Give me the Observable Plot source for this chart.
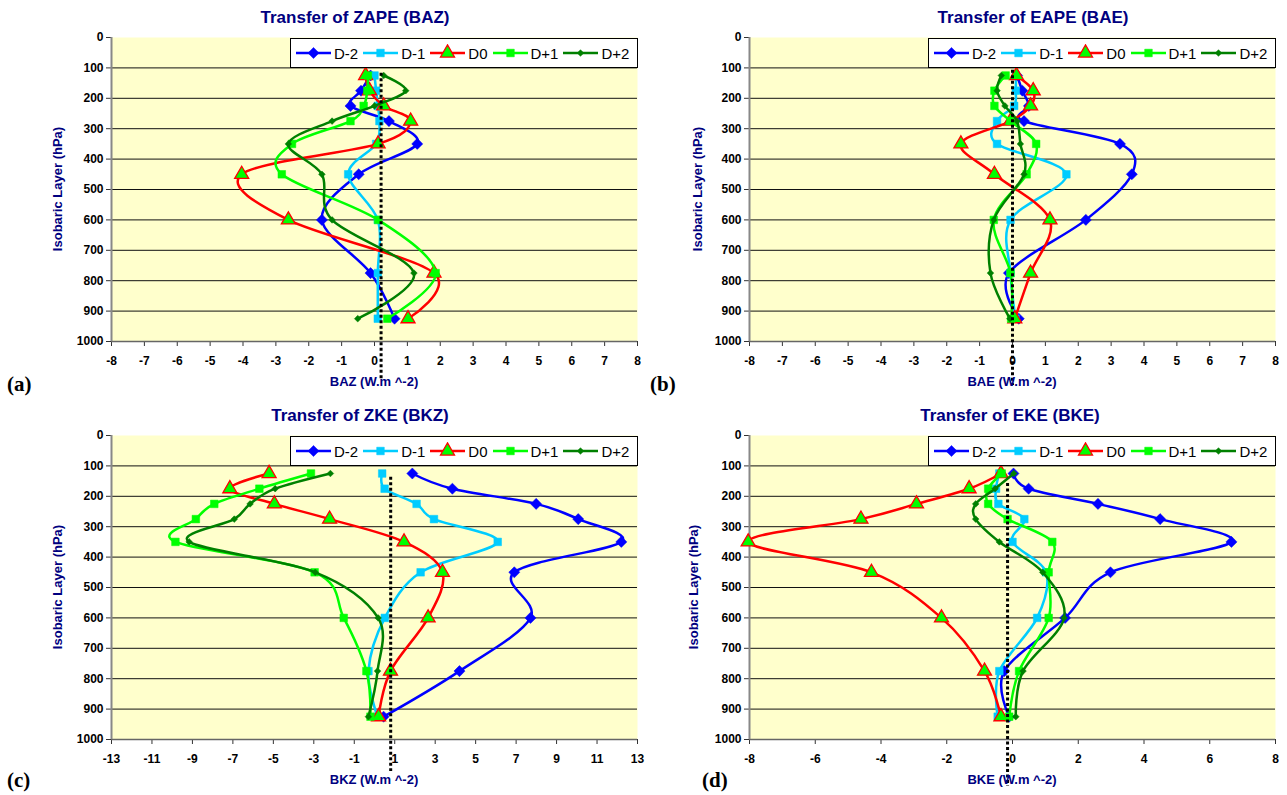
<!DOCTYPE html>
<html><head><meta charset="utf-8">
<script src="https://cdn.jsdelivr.net/npm/d3@7"></script>
<script src="https://cdn.jsdelivr.net/npm/@observablehq/plot@0.6"></script>
<style>
html,body{margin:0;padding:0;background:#fff}
body{width:1287px;height:795px;overflow:hidden;position:relative;font-family:Arial,"Liberation Sans",sans-serif}
.panel{position:absolute}
.ttl{position:absolute;font-weight:bold;color:#000080;font-size:17px;line-height:1;white-space:nowrap;transform:translateX(-50%)}
.xt{position:absolute;font-weight:bold;color:#000080;font-size:13px;line-height:1;white-space:nowrap;transform:translateX(-50%)}
.yt{position:absolute;font-weight:bold;color:#000080;font-size:13px;line-height:1;white-space:nowrap;transform:translate(-50%,-50%) rotate(-90deg)}
.tag{position:absolute;font-family:"Liberation Serif","Times New Roman",serif;font-weight:bold;font-size:21px;line-height:1}
.legend{position:absolute;background:#fff;border:1px solid #000;box-sizing:border-box;height:30px;display:flex;flex-wrap:nowrap;align-items:center;padding-left:5px;overflow:hidden}
.li{display:flex;flex:none;align-items:center;margin-right:5px;white-space:nowrap}
.li svg{flex:none;display:block}
.li span{font-size:15px;margin-left:3px;color:#000;white-space:nowrap}
</style></head><body>
<script>
// ---------------- data ----------------
const levels = [125, 175, 225, 275, 350, 450, 600, 775, 925];
const seriesNames = ["D-2", "D-1", "D0", "D+1", "D+2"];

// (a) BAZ
const baz_Dm2 = [-0.12, -0.41, -0.73, 0.44, 1.30, -0.48, -1.60, -0.12, 0.61];
const baz_Dm1 = [0.00, 0.05, 0.10, 0.15, 0.05, -0.80, 0.10, 0.10, 0.10];
const baz_D0  = [-0.27, -0.15, 0.28, 1.10, 0.11, -4.04, -2.62, 1.81, 1.02];
const baz_Dp1 = [-0.20, -0.22, -0.33, -0.73, -2.51, -2.82, 0.11, 1.86, 0.39];
const baz_Dp2 = [0.28, 0.95, 0.00, -1.29, -2.62, -1.60, -1.29, 1.20, -0.51];

// (b) BAE
const bae_Dm2 = [0.14, 0.30, 0.50, 0.35, 3.27, 3.63, 2.23, -0.11, 0.19];
const bae_Dm1 = [0.10, 0.10, 0.05, -0.47, -0.47, 1.64, -0.06, -0.06, 0.09];
const bae_D0  = [0.12, 0.63, 0.55, -0.06, -1.57, -0.55, 1.14, 0.55, 0.07];
const bae_Dp1 = [-0.21, -0.55, -0.55, -0.06, 0.72, 0.43, -0.57, -0.06, -0.04];
const bae_Dp2 = [-0.34, -0.47, -0.23, 0.14, 0.24, 0.35, -0.57, -0.67, -0.08];

// (c) BKZ
const bkz_Dm2 = [1.87, 3.85, 7.99, 10.07, 12.2, 6.91, 7.71, 4.2, 0.45];
const bkz_Dm1 = [0.38, 0.50, 2.08, 2.94, 6.09, 2.28, 0.51, -0.30, 0.15];
const bkz_D0  = [-5.21, -7.15, -4.95, -2.22, 1.46, 3.36, 2.65, 0.79, 0.20];
const bkz_Dp1 = [-3.14, -5.69, -7.92, -8.83, -9.84, -2.96, -1.52, -0.40, -0.20];
const bkz_Dp2 = [-2.18, -4.91, -6.15, -6.93, -9.16, -2.93, 0.18, 0.15, -0.30];

// (d) BKE
const bke_Dm2 = [0.03, 0.49, 2.60, 4.49, 6.66, 2.98, 1.60, -0.25, -0.10];
const bke_Dm1 = [-0.40, -0.50, -0.43, 0.36, 0.00, 1.02, 0.75, -0.40, -0.45];
const bke_D0  = [-0.35, -1.32, -2.92, -4.61, -8.04, -4.29, -2.16, -0.85, -0.35];
const bke_Dp1 = [-0.33, -0.74, -0.74, -0.15, 1.21, 1.10, 1.10, 0.20, -0.10];
const bke_Dp2 = [0.04, -0.53, -1.12, -1.12, -0.40, 0.92, 1.57, 0.32, 0.10];

// panel texts & axes
const panelTitles = ["Transfer of ZAPE (BAZ)", "Transfer of EAPE (BAE)", "Transfer of ZKE (BKZ)", "Transfer of EKE (BKE)"];
const xTitles = ["BAZ (W.m ^-2)", "BAE (W.m ^-2)", "BKZ (W.m ^-2)", "BKE (W.m ^-2)"];
const yTitle = "Isobaric Layer (hPa)";
const panelTags = ["(a)", "(b)", "(c)", "(d)"];
const xDomains = [[-8, 8], [-8, 8], [-13, 13], [-8, 8]];
const xTicksA = [-8, -7, -6, -5, -4, -3, -2, -1, 0, 1, 2, 3, 4, 5, 6, 7, 8];
const xTicksC = [-13, -11, -9, -7, -5, -3, -1, 1, 3, 5, 7, 9, 11, 13];
const xTicksD = [-8, -6, -4, -2, 0, 2, 4, 6, 8];
const xTickSets = [xTicksA, xTicksA, xTicksC, xTicksD];
const yTicks = [0, 100, 200, 300, 400, 500, 600, 700, 800, 900, 1000];
const gridLevels = [100, 200, 300, 400, 500, 600, 700, 800, 900];
// dotted reference line: x value and vertical extent (hPa)
const refX = [0.2, 0.0, 0.8, -0.15];
const refTop = [118, 108, 137, 158];
const refBottom = [1128, 1145, 1105, 1155];

const panelSeries = [
  [baz_Dm2, baz_Dm1, baz_D0, baz_Dp1, baz_Dp2],
  [bae_Dm2, bae_Dm1, bae_D0, bae_Dp1, bae_Dp2],
  [bkz_Dm2, bkz_Dm1, bkz_D0, bkz_Dp1, bkz_Dp2],
  [bke_Dm2, bke_Dm1, bke_D0, bke_Dp1, bke_Dp2]
];

// ---------------- styles ----------------
const lineColors = ["#0000FF", "#00CCFF", "#FF0000", "#00FF00", "#008000"];
const symFill = ["#0000FF", "#00CCFF", "#00FF00", "#00FF00", "#008000"];
const symStroke = ["#0000FF", "#00CCFF", "#FF0000", "#00FF00", "#008000"];
const symbols = ["diamond2", "square", "triangle", "square", "diamond2"];
const symR = [5, 4.3, 5.2, 4.3, 3];
const d3Sym = {diamond2: d3.symbolDiamond2, square: d3.symbolSquare, triangle: d3.symbolTriangle};

const W = 645, H = 398;
const panelPos = [[0, 0], [638, 0], [0, 398], [638, 398]];
const titleX = [355, 395, 360, 372];
const yTitleX = [57, 59, 57, 55];
const tagPos = [[7, 374], [12, 374], [7, 372], [64, 372]];

panelPos.forEach(([px, py], k) => {
  const rows = [];
  panelSeries[k].forEach((vals, si) => vals.forEach((v, i) => rows.push({si, p: levels[i], v})));
  const marks = [
    Plot.frame({fill: "#FFFFCC", stroke: "none"}),
    Plot.ruleY(gridLevels, {stroke: "#111", strokeWidth: 1}),
    Plot.axisY({ticks: yTicks, tickSize: 5, tickPadding: 3, fontSize: 12, fontWeight: "bold", fill: "#000", stroke: "#333", label: null, tickFormat: d => String(d)}),
    Plot.axisX({ticks: xTickSets[k], tickSize: 5, tickPadding: 10, fontSize: 12, fontWeight: "bold", fill: "#000", stroke: "#333", label: null, tickFormat: d => String(d)}),
    Plot.ruleY([1000], {stroke: "#666", strokeWidth: 1.5}),
    Plot.ruleX([xDomains[k][0]], {stroke: "#888", strokeWidth: 2})
  ];
  for (let si = 0; si < 5; si++) {
    const data = rows.filter(d => d.si === si);
    marks.push(Plot.line(data, {x: "v", y: "p", stroke: lineColors[si], strokeWidth: 2.5, curve: "cardinal", tension: 0}));
    marks.push(Plot.dot(data, {x: "v", y: "p", symbol: symbols[si], r: symR[si], fill: symFill[si], stroke: symStroke[si], strokeWidth: si === 2 ? 1.3 : 0.5}));
  }
  marks.push(Plot.ruleX([{x: refX[k], t: refTop[k], b: refBottom[k]}], {x: "x", y1: "t", y2: "b", stroke: "#000", strokeWidth: 3, strokeDasharray: "3,2.5"}));

  const chart = Plot.plot({
    width: W, height: H,
    marginLeft: 111, marginRight: 8, marginTop: 37, marginBottom: 57,
    x: {domain: xDomains[k]},
    y: {domain: [0, 1000], reverse: true},
    style: {fontFamily: "Arial, 'Liberation Sans', sans-serif", overflow: "visible", background: "transparent"},
    marks
  });
  const wrap = document.createElement("div");
  wrap.className = "panel";
  wrap.style.left = px + "px"; wrap.style.top = py + "px";
  wrap.appendChild(chart);
  document.body.appendChild(wrap);

  const t = document.createElement("div"); t.className = "ttl"; t.textContent = panelTitles[k];
  t.style.left = (px + titleX[k]) + "px"; t.style.top = (py + 9) + "px"; document.body.appendChild(t);
  const xt = document.createElement("div"); xt.className = "xt"; xt.textContent = xTitles[k];
  xt.style.left = (px + 374) + "px"; xt.style.top = (py + 375) + "px"; document.body.appendChild(xt);
  const yt = document.createElement("div"); yt.className = "yt"; yt.textContent = yTitle;
  yt.style.left = (px + yTitleX[k]) + "px"; yt.style.top = (py + 189) + "px"; document.body.appendChild(yt);
  const tg = document.createElement("div"); tg.className = "tag"; tg.textContent = panelTags[k];
  tg.style.left = (px + tagPos[k][0]) + "px"; tg.style.top = (py + tagPos[k][1]) + "px"; document.body.appendChild(tg);

  // legend
  const lg = document.createElement("div"); lg.className = "legend";
  lg.style.left = (px + 290) + "px"; lg.style.top = (py + 38) + "px"; lg.style.width = "348px";
  seriesNames.forEach((name, si) => {
    const it = document.createElement("div"); it.className = "li";
    const svg = d3.create("svg").attr("width", 35).attr("height", 18);
    svg.append("line").attr("x1", 0).attr("x2", 35).attr("y1", 9).attr("y2", 9).attr("stroke", lineColors[si]).attr("stroke-width", 2.5);
    svg.append("path").attr("transform", "translate(17.5,9)")
      .attr("d", d3.symbol(d3Sym[symbols[si]], Math.PI * symR[si] * symR[si])())
      .attr("fill", symFill[si]).attr("stroke", symStroke[si]).attr("stroke-width", si === 2 ? 1.3 : 0.5);
    it.appendChild(svg.node());
    const sp = document.createElement("span"); sp.textContent = name; it.appendChild(sp);
    lg.appendChild(it);
  });
  document.body.appendChild(lg);
});
</script>
</body></html>
